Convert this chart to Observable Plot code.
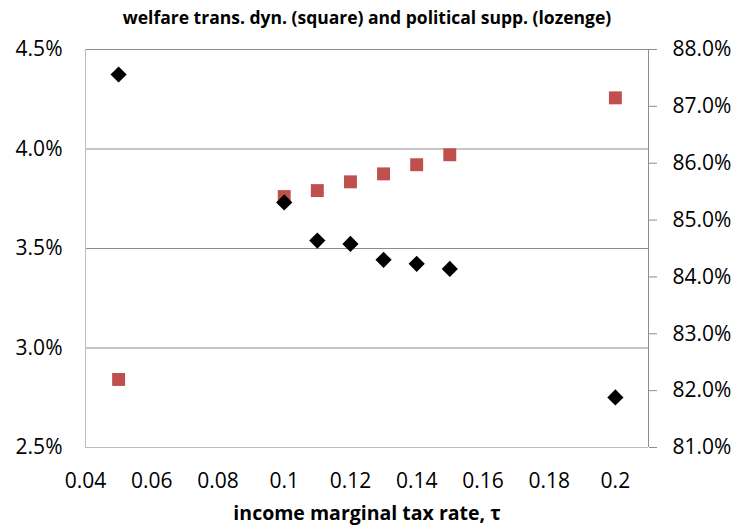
<!DOCTYPE html>
<html>
<head>
<meta charset="utf-8">
<script src="https://cdn.jsdelivr.net/npm/d3@7"></script>
<script src="https://cdn.jsdelivr.net/npm/@observablehq/plot@0.6"></script>
<style>
  html, body { margin: 0; padding: 0; background: #fff; }
  #chart svg { display: block; }
</style>
</head>
<body>
<div id="chart"></div>
<script>
// ---- data ----
const tau = [0.05, 0.10, 0.11, 0.12, 0.13, 0.14, 0.15, 0.20];
const welfare = [2.842, 3.761, 3.791, 3.835, 3.875, 3.921, 3.971, 4.257];   // % (left axis, squares)
const support = [87.56, 85.31, 84.64, 84.58, 84.30, 84.23, 84.14, 81.88];  // % (right axis, lozenges)
const xTicks = [0.04, 0.06, 0.08, 0.1, 0.12, 0.14, 0.16, 0.18, 0.2];
const leftTicks = [2.5, 3.0, 3.5, 4.0, 4.5];
const rightTicks = [81, 82, 83, 84, 85, 86, 87, 88];
const titleText = "welfare trans. dyn. (square) and political supp. (lozenge)";
const xTitle = "income marginal tax rate, τ";

// ---- dual-axis mapping (right axis 81–88 % onto left axis 2.5–4.5 %) ----
const L0 = 2.5, L1 = 4.5, R0 = 81, R1 = 88;
const toLeft = r => L0 + (r - R0) * (L1 - L0) / (R1 - R0);
const fromLeft = l => R0 + (l - L0) * (R1 - R0) / (L1 - L0);

const squares = tau.map((t, i) => ({t, v: welfare[i]}));
const lozenges = tau.map((t, i) => ({t, v: toLeft(support[i])}));

const font = "'Open Sans', sans-serif";
const plot = Plot.plot({
  width: 733,
  height: 525,
  marginLeft: 85,
  marginRight: 85,
  marginTop: 49,
  marginBottom: 78,
  style: {fontFamily: font, fontSize: "21px", color: "#000", background: "#fff"},
  x: {domain: [0.04, 0.21]},
  y: {domain: [L0, L1]},
  marks: [
    Plot.gridY({ticks: [3.0, 3.5, 4.0, 4.5], stroke: "#8c8c8c", strokeOpacity: 1}),
    Plot.ruleX([0.04], {stroke: "#bdbdbd"}),
    Plot.ruleX([0.21], {stroke: "#8c8c8c"}),
    Plot.ruleY([L0], {stroke: "#bdbdbd"}),
    Plot.axisY({ticks: leftTicks, tickSize: 0, tickPadding: 23, tickFormat: d => d.toFixed(1) + "%", label: null}),
    Plot.axisY({anchor: "right", ticks: rightTicks.map(toLeft), tickSize: 8, tickPadding: 16,
      stroke: "#8c8c8c", fill: "#000", tickFormat: d => fromLeft(d).toFixed(1) + "%", label: null}),
    Plot.axisX({ticks: xTicks, tickSize: 0, tickPadding: 26, tickFormat: d => String(d), label: null}),
    Plot.dot(squares, {x: "t", y: "v", symbol: "square", r: 7.3, fill: "#c0504d", stroke: null}),
    Plot.dot(lozenges, {x: "t", y: "v", symbol: "diamond2", r: 7.3, fill: "#000", stroke: null}),
    Plot.text([titleText], {text: d => d, frameAnchor: "top", lineAnchor: "middle", dy: -31, fontWeight: "bold", fontSize: 17.5}),
    Plot.text([xTitle], {text: d => d, frameAnchor: "bottom", lineAnchor: "middle", dy: 66, fontWeight: "bold", fontSize: 19.5})
  ]
});
document.getElementById("chart").appendChild(plot);
</script>
</body>
</html>
